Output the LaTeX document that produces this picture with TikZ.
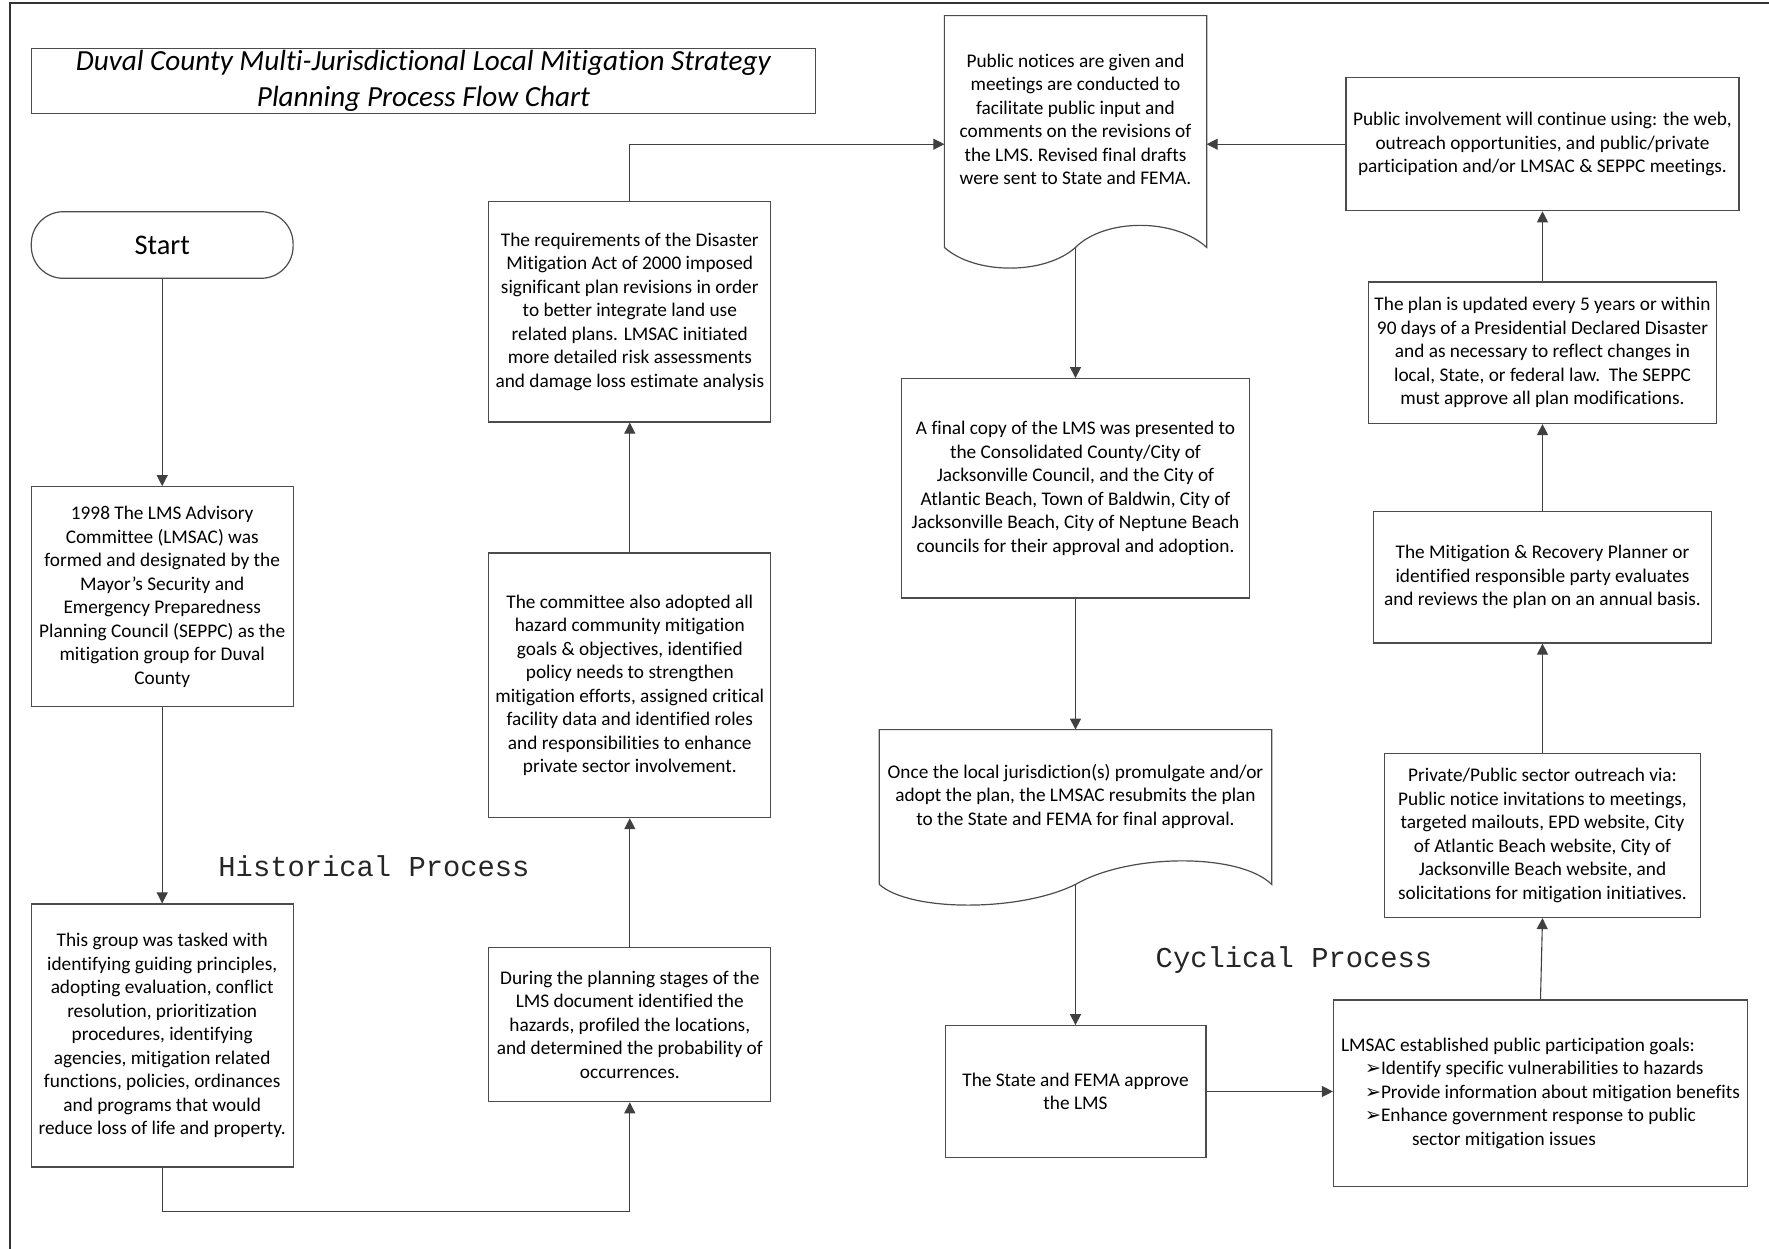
\documentclass[tikz,border=0pt]{standalone}
\usepackage{fontspec}
\setmainfont{Carlito}[Ligatures=NoCommon]
\newfontfamily\lmsmono{Liberation Mono}
\newfontfamily\lmssym{DejaVu Sans}
\usetikzlibrary{arrows.meta}
\newcommand\lmsbody{\fontsize{9.65pt}{11.75pt}\selectfont}
\newcommand\lmsbullet{\smash{\lmssym\fontsize{9.5pt}{10pt}\selectfont ➢}}
\begin{document}
\begin{tikzpicture}[x=0.5pt,y=-0.5pt,
  box/.style={draw=black!70, line width=0.6pt, inner sep=0pt, align=center, font=\lmsbody, text=black, fill=white},
  shapearea/.style={inner sep=0pt},
  doctext/.style={inner sep=0pt, align=center, font=\lmsbody, text=black},
  arr/.style={draw=black!75, line width=0.55pt, -{Triangle[length=5.5pt,width=5.5pt]}},
  proc/.style={font=\lmsmono\fontsize{14.4pt}{16pt}\selectfont, text=black!85, inner sep=0pt},
  docline/.style={draw=black!70, line width=0.6pt}
]
\useasboundingbox (0,0) rectangle (1769,1249);
% frame
\draw[black!80, line width=1pt] (10,1249) -- (10,3) -- (1769,3);

% title
\node[box, font=\itshape\fontsize{14.6pt}{18pt}\selectfont, minimum width=392.3pt, minimum height=32.5pt] (title) at (423.4,80.8)
  {Duval County Multi-Jurisdictional Local Mitigation Strategy\\Planning Process Flow Chart};

% left column
\node[box, rounded corners=16pt, font=\fontsize{14.2pt}{17pt}\selectfont, minimum width=130.9pt, minimum height=33.3pt] (start) at (162.2,245) {Start};
\node[box, minimum width=130.9pt, minimum height=110pt] (A) at (162.2,596.7)
  {1998 The LMS Advisory\\Committee (LMSAC) was\\formed and designated by the\\Mayor’s Security and\\Emergency Preparedness\\Planning Council (SEPPC) as the\\mitigation group for Duval\\County};
\node[box, minimum width=130.9pt, minimum height=131.5pt] (B) at (162.2,1035.5)
  {This group was tasked with\\identifying guiding principles,\\adopting evaluation, conflict\\resolution, prioritization\\procedures, identifying\\agencies, mitigation related\\functions, policies, ordinances\\and programs that would\\reduce loss of life and property.};

% second column
\node[box, minimum width=141pt, minimum height=77pt] (C) at (629.8,1024.7)
  {During the planning stages of the\\LMS document identified the\\hazards, profiled the locations,\\and determined the probability of\\occurrences.};
\node[box, minimum width=141pt, minimum height=132.3pt] (D) at (629.8,685.3)
  {The committee also adopted all\\hazard community mitigation\\goals \& objectives, identified\\policy needs to strengthen\\mitigation efforts, assigned critical\\facility data and identified roles\\and responsibilities to enhance\\private sector involvement.};
\node[box, minimum width=141pt, minimum height=110.2pt] (E) at (629.8,311.8)
  {The requirements of the Disaster\\Mitigation Act of 2000 imposed\\significant plan revisions in order\\to better integrate land use\\related plans. LMSAC initiated\\more detailed risk assessments\\and damage loss estimate analysis};

% third column
\node[shapearea, minimum width=130.75pt, minimum height=115.5pt] (doc1) at (1075.5,131.5) {};
\draw[docline] (doc1.south west) -- (doc1.north west) -- (doc1.north east) -- (doc1.south east)
  .. controls (1175,218) and (1105,218) .. (doc1.south)
  .. controls (1045,275) and (975,275) .. (doc1.south west);
\node[doctext] (doc1t) at (1075.5,119.6)
  {Public notices are given and\\meetings are conducted to\\facilitate public input and\\comments on the revisions of\\the LMS. Revised final drafts\\were sent to State and FEMA.};

\node[box, minimum width=174.1pt, minimum height=109.65pt] (F) at (1075.5,488.35)
  {A final copy of the LMS was presented to\\the Consolidated County/City of\\Jacksonville Council, and the City of\\Atlantic Beach, Town of Baldwin, City of\\Jacksonville Beach, City of Neptune Beach\\councils for their approval and adoption.};

\node[shapearea, minimum width=195.8pt, minimum height=77pt] (doc2) at (1075.5,807) {};
\draw[docline] (doc2.south west) -- (doc2.north west) -- (doc2.north east) -- (doc2.south east)
  .. controls (1240,853) and (1130,853) .. (doc2.south)
  .. controls (1020,912) and (910,912) .. (doc2.south west);
\node[doctext] (doc2t) at (1075.5,796)
  {Once the local jurisdiction(s) promulgate and/or\\adopt the plan, the LMSAC resubmits the plan\\to the State and FEMA for final approval.};

\node[box, minimum width=130.4pt, minimum height=65.8pt] (G) at (1075.5,1091.5)
  {The State and FEMA approve\\the LMS};

% right column
\node[box, minimum width=207pt, minimum height=93.3pt, align=left] (H) at (1540.5,1093.3)
  {LMSAC established public participation goals:\\
   \hspace*{12pt}\lmsbullet Identify specific vulnerabilities to hazards\\
   \hspace*{12pt}\lmsbullet Provide information about mitigation benefits\\
   \hspace*{12pt}\lmsbullet Enhance government response to public\\
   \hspace*{35.5pt}sector mitigation issues};
\node[box, minimum width=158.3pt, minimum height=81.9pt] (I) at (1542.5,835.6)
  {Private/Public sector outreach via:\\Public notice invitations to meetings,\\targeted mailouts, EPD website, City\\of Atlantic Beach website, City of\\Jacksonville Beach website, and\\solicitations for mitigation initiatives.};
\node[box, minimum width=169.1pt, minimum height=65.75pt] (J) at (1542.5,577.25)
  {The Mitigation \& Recovery Planner or\\identified responsible party evaluates\\and reviews the plan on an annual basis.};
\node[box, minimum width=174pt, minimum height=70.75pt] (K) at (1542.5,352.75)
  {The plan is updated every 5 years or within\\90 days of a Presidential Declared Disaster\\and as necessary to reflect changes in\\local, State, or federal law.\ \ The SEPPC\\must approve all plan modifications.};
\node[box, minimum width=196.5pt, minimum height=66.5pt] (L) at (1542.5,144.2)
  {Public involvement will continue using: the web,\\outreach opportunities, and public/private\\participation and/or LMSAC \& SEPPC meetings.};

% labels
\node[proc] (hist) at (374,866) {Historical Process};
\node[proc] (cycl) at (1294,960) {Cyclical Process};

% connectors
\draw[arr] (start.south) -- (A.north);
\draw[arr] (A.south) -- (B.north);
\draw[arr] (B.south) -- ++(0,44) -| (C.south);
\draw[arr] (C.north) -- (D.south);
\draw[arr] (D.north) -- (E.south);
\draw[arr] (E.north) |- (doc1.west |- L.west);
\draw[arr] (doc1.south) -- (F.north);
\draw[arr] (F.south) -- (doc2.north);
\draw[arr] (doc2.south) -- (G.north);
\draw[arr] (G.east) -- (G.east -| H.west);
\draw[arr] (H.north) -- (I.south);
\draw[arr] (I.north) -- (J.south);
\draw[arr] (J.north) -- (K.south);
\draw[arr] (K.north) -- (L.south);
\draw[arr] (L.west) -- (L.west -| doc1.east);
\end{tikzpicture}
\end{document}
